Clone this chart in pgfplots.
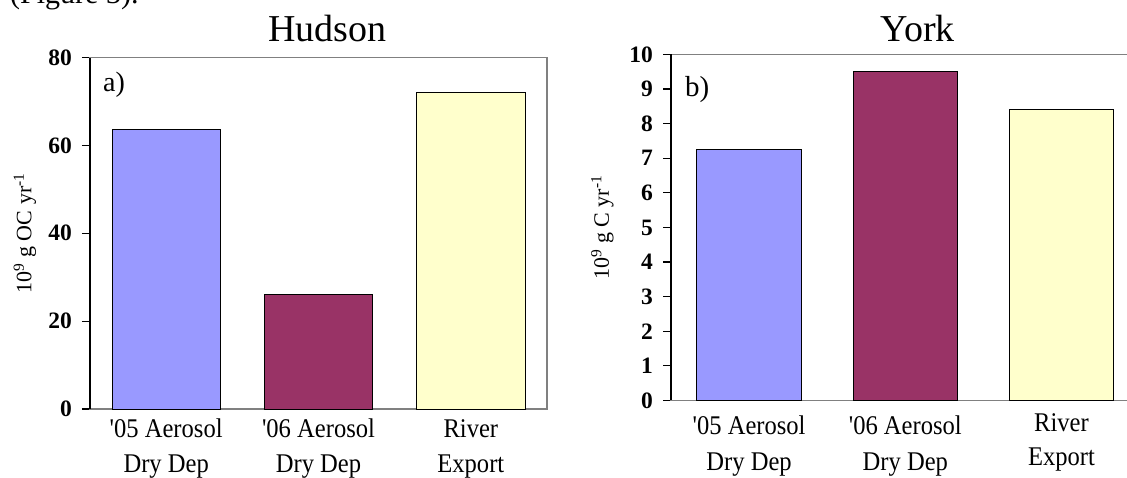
\documentclass[border=0pt]{standalone}
\usepackage{fontspec}
\setmainfont{Liberation Serif}
\usepackage{graphicx}
\usepackage{pgfplots}
\pgfplotsset{compat=1.18}
\definecolor{cblue}{HTML}{9999FF}
\definecolor{cpurp}{HTML}{993366}
\definecolor{cyel}{HTML}{FFFFCC}
\definecolor{agray}{HTML}{808080}
\newcommand{\fs}[1]{\fontsize{#1}{#1}\selectfont}
\newcommand{\sq}{\XeTeXglyph\the\XeTeXcharglyph"0027\relax}
\newcommand{\ct}[1]{\scalebox{0.91}[1]{#1}}
\pgfplotsset{
  myax/.style={
    scale only axis, clip=false,
    xmin=-0.5, xmax=2.5, ymin=0,
    xtick=\empty, ytick pos=left, tick align=outside,
    major tick length=8pt,
    axis line style={agray, line width=1.2pt},
    ytick style={black, line width=1.2pt},
    /pgf/number format/assume math mode=true,
    yticklabel style={font=\fs{23.5}\bfseries, anchor=east, inner sep=0pt, xshift=-10pt},
    ylabel style={font=\fs{22}, anchor=center, rotate=0},
  },
  mybar/.style={ybar, bar shift=0pt, draw=black, line width=0.8pt},
}
\tikzset{cat/.style={anchor=base, font=\fs{27}, inner sep=0pt}}
\begin{document}
\begin{tikzpicture}
\node[anchor=base west, font=\fs{30}, inner sep=0pt] at (10pt,474pt) {(Figure 3).};
% ---------- Hudson ----------
\begin{axis}[myax, at={(90pt,69pt)}, anchor=south west,
  width=457pt, height=351.5pt, ymax=80, ytick={0,20,40,60,80},
  ylabel={10\textsuperscript{9} g OC yr\textsuperscript{-1}},
  ylabel style={at={([xshift=-65pt]rel axis cs:0,0.5)}}]
\addplot[mybar, bar width=0.71, fill=cblue] coordinates {(0,63.6)};
\addplot[mybar, bar width=0.71, fill=cpurp] coordinates {(1,26.1)};
\addplot[mybar, bar width=0.71, fill=cyel] coordinates {(2,72.1)};
\draw[black, line width=1.2pt] (rel axis cs:0,0) -- (rel axis cs:0,1);
\node[anchor=base, font=\fs{38}, inner sep=0pt] at (rel axis cs:0.519,1) [yshift=16pt] {Hudson};
\node[anchor=base west, font=\fs{28}, inner sep=0pt] at (rel axis cs:0,1) [xshift=13pt, yshift=-34pt] {a)};
\node[cat] at (axis cs:0,0) [yshift=-29pt] {\ct{\sq05 Aerosol}};
\node[cat] at (axis cs:0,0) [yshift=-64pt] {\ct{Dry Dep}};
\node[cat] at (axis cs:1,0) [yshift=-29pt] {\ct{\sq06 Aerosol}};
\node[cat] at (axis cs:1,0) [yshift=-64pt] {\ct{Dry Dep}};
\node[cat] at (axis cs:2,0) [yshift=-29pt] {\ct{River}};
\node[cat] at (axis cs:2,0) [yshift=-64pt] {\ct{Export}};
\end{axis}
% ---------- York ----------
\begin{axis}[myax, at={(671pt,77.5pt)}, anchor=south west,
  width=468.6pt, height=346pt, ymax=10, ytick={0,1,...,10},
  ylabel={10\textsuperscript{9} g C yr\textsuperscript{-1}},
  ylabel style={at={([xshift=-68.5pt]rel axis cs:0,0.5)}}]
\addplot[mybar, bar width=0.67, fill=cblue] coordinates {(0,7.25)};
\addplot[mybar, bar width=0.67, fill=cpurp] coordinates {(1,9.5)};
\addplot[mybar, bar width=0.67, fill=cyel] coordinates {(2,8.4)};
\draw[black, line width=1.2pt] (rel axis cs:0,0) -- (rel axis cs:0,1);
\node[anchor=base, font=\fs{38}, inner sep=0pt] at (axis cs:1.08,10) [yshift=12.8pt] {York};
\node[anchor=base west, font=\fs{29}, inner sep=0pt] at (rel axis cs:0,1) [xshift=14pt, yshift=-42pt] {b)};
\node[cat] at (axis cs:0,0) [yshift=-34.5pt] {\ct{\sq05 Aerosol}};
\node[cat] at (axis cs:0,0) [yshift=-70.5pt] {\ct{Dry Dep}};
\node[cat] at (axis cs:1,0) [yshift=-34.5pt] {\ct{\sq06 Aerosol}};
\node[cat] at (axis cs:1,0) [yshift=-70.5pt] {\ct{Dry Dep}};
\node[cat] at (axis cs:2,0) [yshift=-31.5pt] {\ct{River}};
\node[cat] at (axis cs:2,0) [yshift=-65.5pt] {\ct{Export}};
\end{axis}
\pgfresetboundingbox
\path[use as bounding box] (0,0) rectangle (1127pt,478pt);
\end{tikzpicture}
\end{document}
